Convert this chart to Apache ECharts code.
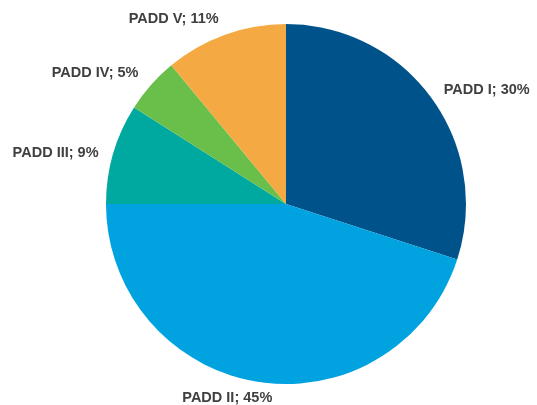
<!DOCTYPE html>
<html>
<head>
<meta charset="UTF-8">
<title>PADD</title>
<script src="https://cdn.jsdelivr.net/npm/echarts@6/dist/echarts.min.js"></script>
<style>
  html, body { margin: 0; padding: 0; background: #fff; }
  #chart { width: 537px; height: 405px; }
</style>
</head>
<body>
<div id="chart"></div>
<script>
var names = ['PADD I', 'PADD II', 'PADD III', 'PADD IV', 'PADD V'];
var values = [30, 45, 9, 5, 11];
var colors = ['#00538a', '#00a3e0', '#00a99f', '#6abf4b', '#f5a942'];
// small nudges so labels sit where the original puts them
var labelNudge = [[-1, -2], [21, 6], [0, 2], [0, -5], [2, -6]];

var chart = echarts.init(document.getElementById('chart'));

var data = names.map(function (n, i) {
  return {
    name: n,
    value: values[i],
    itemStyle: { color: colors[i] },
    label: { offset: labelNudge[i] }
  };
});

chart.setOption({
  animation: false,
  series: [{
    type: 'pie',
    center: [286, 204],
    radius: 180,
    startAngle: 90,
    clockwise: true,
    avoidLabelOverlap: false,
    data: data,
    label: {
      show: true,
      position: 'outside',
      formatter: '{b}; {c}%',
      color: '#404040',
      fontFamily: 'Liberation Sans, Arial, sans-serif',
      fontWeight: 'bold',
      fontSize: 14.5
    },
    labelLine: { show: false, length: 10, length2: 0 }
  }]
});
</script>
</body>
</html>
